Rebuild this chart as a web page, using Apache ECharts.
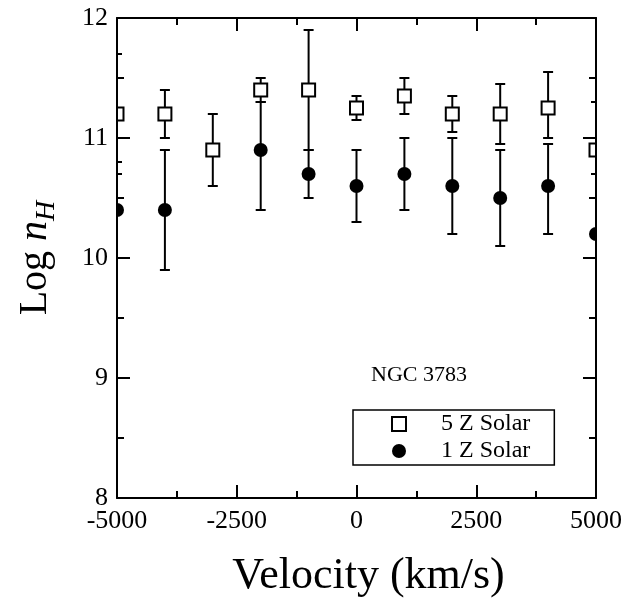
<!DOCTYPE html>
<html>
<head>
<meta charset="utf-8">
<script src="https://cdn.jsdelivr.net/npm/echarts@6/dist/echarts.min.js"></script>
<style>
  html, body { margin: 0; padding: 0; background: #fff; }
  #chart { width: 639px; height: 608px; }
</style>
</head>
<body>
<div id="chart"></div>
<script>
// 5 Z Solar (open squares)
var z5Velocity = [-5000, -4000, -3000, -2000, -1000, 0, 1000, 2000, 3000, 4000, 5000];
var z5Value = [11.2, 11.2, 10.9, 11.4, 11.4, 11.25, 11.35, 11.2, 11.2, 11.25, 10.9];
var z5Low = [10.7, 11.0, 10.6, 11.3, 10.9, 11.15, 11.2, 11.05, 10.95, 11.0, 10.7];
var z5High = [11.7, 11.4, 11.2, 11.5, 11.9, 11.35, 11.5, 11.35, 11.45, 11.55, 11.3];

// 1 Z Solar (filled circles)
var z1Velocity = [-5000, -4000, -2000, -1000, 0, 1000, 2000, 3000, 4000, 5000];
var z1Value = [10.4, 10.4, 10.9, 10.7, 10.6, 10.7, 10.6, 10.5, 10.6, 10.2];
var z1Low = [10.0, 9.9, 10.4, 10.5, 10.3, 10.4, 10.2, 10.1, 10.2, 10.0];
var z1High = [10.8, 10.9, 11.3, 10.9, 10.9, 11.0, 11.0, 10.9, 10.95, 10.5];

var xTicks = [-5000, -2500, 0, 2500, 5000];
var yTicks = [8, 9, 10, 11, 12];

var FONT = "Liberation Serif";

function rows(xs, ys, lo, hi) {
  return xs.map(function (x, i) { return [x, ys[i], lo[i], hi[i]]; });
}

function errorItem(kind) {
  return function (params, api) {
    var x = api.value(0);
    var c = api.coord([x, api.value(1)]);
    var pl = api.coord([x, api.value(2)]);
    var ph = api.coord([x, api.value(3)]);
    var cap = 5;
    var line = { stroke: "#000", lineWidth: 2 };
    var kids = [
      { type: "line", shape: { x1: pl[0], y1: pl[1], x2: ph[0], y2: ph[1] }, style: line },
      { type: "line", shape: { x1: pl[0] - cap, y1: pl[1], x2: pl[0] + cap, y2: pl[1] }, style: line },
      { type: "line", shape: { x1: ph[0] - cap, y1: ph[1], x2: ph[0] + cap, y2: ph[1] }, style: line }
    ];
    if (kind === "square") {
      kids.push({ type: "rect", shape: { x: c[0] - 6.5, y: c[1] - 6.5, width: 13, height: 13 },
        style: { fill: "#fff", stroke: "#000", lineWidth: 2 } });
    } else {
      kids.push({ type: "circle", shape: { cx: c[0], cy: c[1], r: 7 }, style: { fill: "#000" } });
    }
    return { type: "group", children: kids };
  };
}

var tickStyle = { color: "#000", width: 2 };

function xAxisDef(pos, labels) {
  return {
    type: "value", position: pos, min: -5000, max: 5000, interval: 2500, z: 5,
    axisLine: { onZero: false, lineStyle: tickStyle },
    axisTick: { inside: true, length: 13, lineStyle: tickStyle },
    minorTick: { show: true, splitNumber: 2, length: 7, lineStyle: tickStyle },
    splitLine: { show: false },
    axisLabel: {
      show: labels, margin: 10, color: "#000", fontSize: 26, fontFamily: FONT,
      formatter: function (v) { return xTicks.indexOf(v) >= 0 ? String(v) : ""; }
    }
  };
}

function yAxisDef(pos, labels) {
  return {
    type: "value", position: pos, min: 8, max: 12, interval: 1, z: 5,
    axisLine: { onZero: false, lineStyle: tickStyle },
    axisTick: { inside: true, length: 13, lineStyle: tickStyle },
    minorTick: { show: true, splitNumber: 2, length: 7, lineStyle: tickStyle },
    splitLine: { show: false },
    axisLabel: {
      show: labels, margin: 9, color: "#000", fontSize: 26, fontFamily: FONT,
      formatter: function (v) { return yTicks.indexOf(v) >= 0 ? String(v) : ""; }
    }
  };
}

var xMain = xAxisDef("bottom", true);
xMain.name = "Velocity (km/s)";
xMain.nameLocation = "middle";
xMain.nameGap = 56;
xMain.nameTextStyle = { color: "#000", fontSize: 44, fontFamily: FONT, padding: [0, 0, 0, 24] };

var yMain = yAxisDef("left", true);
yMain.name = "{a|Log }{b|n}{c|H}";
yMain.nameLocation = "middle";
yMain.nameGap = 56;
yMain.nameTextStyle = {
  color: "#000", fontFamily: FONT,
  rich: {
    a: { fontSize: 40, fontFamily: FONT, color: "#000" },
    b: { fontSize: 40, fontFamily: FONT, fontStyle: "italic", color: "#000" },
    c: { fontSize: 28, fontFamily: FONT, fontStyle: "italic", color: "#000", padding: [24, 0, 0, 0] }
  }
};

var chart = echarts.init(document.getElementById("chart"));
chart.setOption({
  animation: false,
  backgroundColor: "#fff",
  title: {
    text: "NGC 3783", left: 366, top: 359,
    textStyle: { fontSize: 22, fontWeight: "normal", fontFamily: FONT, color: "#000" }
  },
  legend: {
    orient: "vertical", left: 353, top: 410,
    padding: [2, 24, 2, 38], itemGap: 3, itemWidth: 14, itemHeight: 14,
    borderColor: "#000", borderWidth: 1.5, borderRadius: 0,
    textStyle: { fontSize: 24, fontFamily: FONT, color: "#000", padding: [0, 0, 0, 30] },
    data: [
      { name: "5 Z Solar", icon: "rect", itemStyle: { color: "#fff", borderColor: "#000", borderWidth: 2 } },
      { name: "1 Z Solar", icon: "circle", itemStyle: { color: "#000", borderWidth: 0 } }
    ]
  },
  grid: { left: 117, right: 43, top: 18, bottom: 110 },
  xAxis: [xMain, xAxisDef("top", false)],
  yAxis: [yMain, yAxisDef("right", false)],
  series: [
    {
      name: "5 Z Solar", type: "custom", clip: true,
      itemStyle: { color: "#fff", borderColor: "#000" },
      renderItem: errorItem("square"),
      encode: { x: 0, y: [1, 2, 3] },
      data: rows(z5Velocity, z5Value, z5Low, z5High)
    },
    {
      name: "1 Z Solar", type: "custom", clip: true,
      itemStyle: { color: "#000" },
      renderItem: errorItem("circle"),
      encode: { x: 0, y: [1, 2, 3] },
      data: rows(z1Velocity, z1Value, z1Low, z1High)
    }
  ]
});
</script>
</body>
</html>
